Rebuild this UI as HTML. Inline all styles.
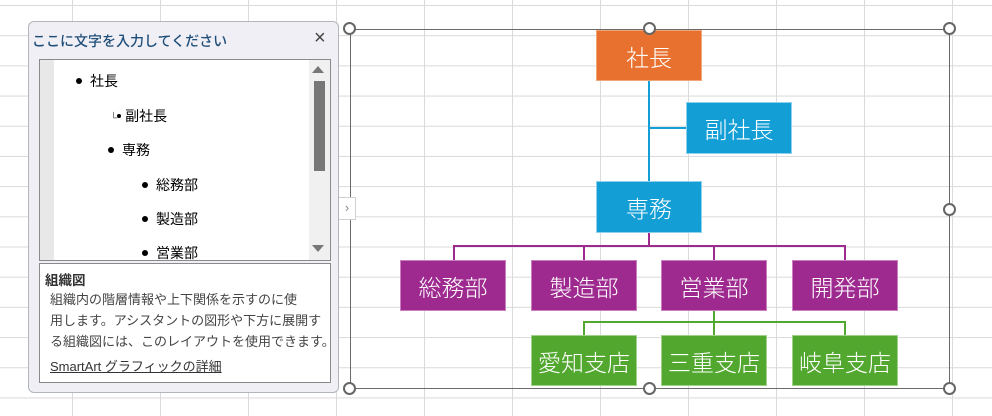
<!DOCTYPE html>
<html><head><meta charset="utf-8"><style>
body{margin:0;width:992px;height:416px;overflow:hidden;background:#fff;position:relative;font-family:"Liberation Sans","Noto Sans CJK JP",sans-serif;}
.grid{position:absolute;left:0;top:0;width:992px;height:416px;
background-image:linear-gradient(to right,#dadada 1px,transparent 1px),linear-gradient(to bottom,#dadada 1px,transparent 1px);
background-size:88px 30.2px;background-position:72px 5px;}
.b{position:absolute;color:#fff;font-size:23px;font-weight:300;display:flex;align-items:center;justify-content:center;box-sizing:border-box;}
.o{background:#E8712F;border:1px solid #f3a57a}
.bl{background:#139FD6;border:1px solid #8fd0ee}
.p{background:#9E2A90;border:1px solid #c97fc0}
.g{background:#52A82F;border:1px solid #9fd18a}
.h{position:absolute;width:9px;height:9px;border:2px solid #666;border-radius:50%;background:#fff;}
.l{position:absolute}
.d{display:inline-block;width:6px;height:6px;border-radius:50%;background:#000;vertical-align:middle;margin-right:8px;margin-top:-3px}
</style></head><body>
<div class="grid"></div>
<div style="position:absolute;left:350px;top:29px;width:600px;height:360px;border:1px solid #6a6a6a;box-sizing:border-box"></div>
<div class="l" style="left:648px;top:81px;width:2px;height:100px;background:#139FD6"></div>
<div class="l" style="left:648px;top:127px;width:38px;height:2px;background:#139FD6"></div>
<div class="l" style="left:648px;top:233px;width:2px;height:13px;background:#9E2A90"></div>
<div class="l" style="left:453px;top:245px;width:393px;height:2px;background:#9E2A90"></div>
<div class="l" style="left:453px;top:245px;width:2px;height:15px;background:#9E2A90"></div>
<div class="l" style="left:583px;top:245px;width:2px;height:15px;background:#9E2A90"></div>
<div class="l" style="left:713px;top:245px;width:2px;height:15px;background:#9E2A90"></div>
<div class="l" style="left:844px;top:245px;width:2px;height:15px;background:#9E2A90"></div>
<div class="l" style="left:713px;top:310px;width:2px;height:25px;background:#52A82F"></div>
<div class="l" style="left:583px;top:321px;width:263px;height:2px;background:#52A82F"></div>
<div class="l" style="left:583px;top:321px;width:2px;height:14px;background:#52A82F"></div>
<div class="l" style="left:844px;top:321px;width:2px;height:14px;background:#52A82F"></div>
<div class="b o" style="left:596px;top:30px;width:106px;height:51px">社長</div>
<div class="b bl" style="left:686px;top:102px;width:106px;height:52px">副社長</div>
<div class="b bl" style="left:596px;top:181px;width:106px;height:52px">専務</div>
<div class="b p" style="left:400px;top:260px;width:106px;height:51px">総務部</div>
<div class="b p" style="left:531px;top:260px;width:106px;height:51px">製造部</div>
<div class="b p" style="left:661px;top:260px;width:106px;height:51px">営業部</div>
<div class="b p" style="left:792px;top:260px;width:106px;height:51px">開発部</div>
<div class="b g" style="left:531px;top:335px;width:106px;height:51px">愛知支店</div>
<div class="b g" style="left:661px;top:335px;width:106px;height:51px">三重支店</div>
<div class="b g" style="left:792px;top:335px;width:106px;height:51px">岐阜支店</div>
<div class="h" style="left:343px;top:22px"></div>
<div class="h" style="left:643px;top:22px"></div>
<div class="h" style="left:943px;top:22px"></div>
<div class="h" style="left:943px;top:203px"></div>
<div class="h" style="left:343px;top:382px"></div>
<div class="h" style="left:643px;top:382px"></div>
<div class="h" style="left:943px;top:382px"></div>
<div style="position:absolute;left:339px;top:197px;width:17px;height:23px;background:#fff;border:1px solid #d0d0d0;border-left:none;box-sizing:border-box;color:#888;font-size:13px;line-height:20px;text-align:center">›</div>
<div style="position:absolute;left:28px;top:21px;width:311px;height:372px;background:#EFEFF5;border:1px solid #b0b6bc;border-radius:6px;box-sizing:border-box">
 <div style="position:absolute;left:3px;top:9px;font-size:14px;color:#1F4E79;font-weight:500">ここに文字を入力してください</div>
 <div style="position:absolute;left:285px;top:5px;font-size:20px;color:#444">×</div>
 <div style="position:absolute;left:10px;top:37px;width:292px;height:202px;background:#fff;border:1px solid #8a8a8a;box-sizing:border-box;overflow:hidden;font-size:14px;color:#000">
  <div style="position:absolute;left:0;top:0;width:14px;height:200px;background:#e8e8e8"></div>
  <div style="position:absolute;right:0;top:0;width:21px;height:200px;background:#f0f0f0"></div>
  <div style="position:absolute;right:6px;top:6px;width:0;height:0;border-left:6px solid transparent;border-right:6px solid transparent;border-bottom:7px solid #777"></div>
  <div style="position:absolute;right:5px;top:21px;width:11px;height:90px;background:#777"></div>
  <div style="position:absolute;right:6px;top:185px;width:0;height:0;border-left:6px solid transparent;border-right:6px solid transparent;border-top:7px solid #777"></div>
  <div style="position:absolute;left:36px;top:11px"><span class="d"></span>社長</div>
  <div style="position:absolute;left:70px;top:46px"><span style="font-size:10px;color:#555">└</span><span class="d" style="width:4px;height:4px;margin-right:4px"></span>副社長</div>
  <div style="position:absolute;left:68px;top:80px"><span class="d"></span>専務</div>
  <div style="position:absolute;left:102px;top:115px"><span class="d"></span>総務部</div>
  <div style="position:absolute;left:102px;top:149px"><span class="d"></span>製造部</div>
  <div style="position:absolute;left:102px;top:183px"><span class="d"></span>営業部</div>
 </div>
 <div style="position:absolute;left:10px;top:241px;width:292px;height:120px;background:#fff;border:1px solid #8a8a8a;box-sizing:border-box;font-size:13px;color:#444">
  <div style="position:absolute;left:5px;top:5px;font-weight:bold;color:#333;font-size:13.5px">組織図</div>
  <div style="position:absolute;left:10px;top:25px;line-height:21px;white-space:nowrap">組織内の階層情報や上下関係を示すのに使<br>用します。アシスタントの図形や下方に展開す<br>る組織図には、このレイアウトを使用できます。</div>
  <div style="position:absolute;left:10px;top:92px;text-decoration:underline;color:#333">SmartArt グラフィックの詳細</div>
 </div>
</div>
</body></html>
